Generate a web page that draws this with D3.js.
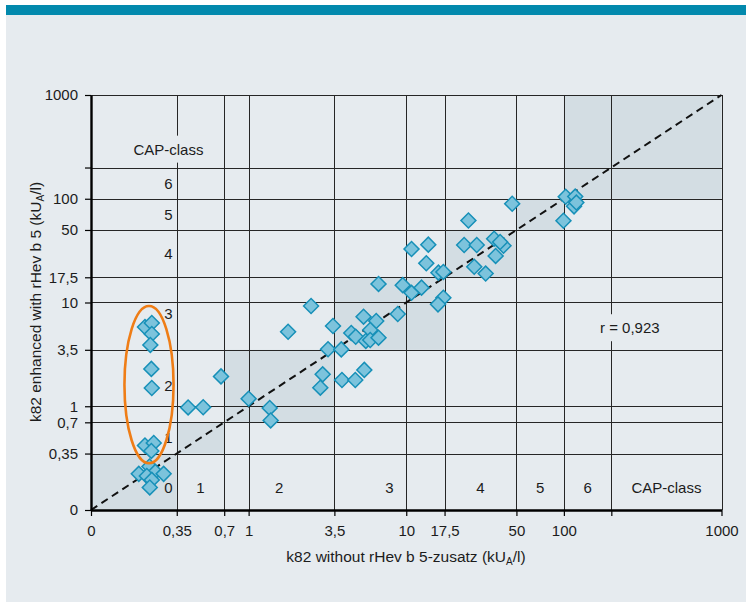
<!DOCTYPE html>
<html>
<head>
<meta charset="utf-8">
<script src="https://cdn.jsdelivr.net/npm/d3@7"></script>
<style>
  html, body { margin: 0; padding: 0; background: #ffffff; }
  svg { display: block; }
  text { font-family: "Liberation Sans", Arial, sans-serif; fill: #1c1c1c; }
</style>
</head>
<body>
<svg id="chart" width="746" height="602"></svg>
<script>
// k82 specific IgE (kU_A/l): without rHev b 5 supplement vs. enhanced with rHev b 5
const withoutRHev = [
  0.22, 0.243, 0.243, 0.238, 0.2415, 0.243, 0.22, 0.25, 0.2415,
  0.201, 0.235, 0.256, 0.289, 0.226, 0.243, 0.236,
  0.413, 0.515, 0.668, 1.0, 1.36, 1.38,
  1.78, 2.49, 3.43, 3.19, 3.87, 2.95, 2.85, 3.91, 4.75, 5.42,
  5.36, 6.45, 4.48, 4.78, 5.91, 5.54, 5.91, 6.67, 8.83,
  6.67, 9.5, 10.8, 12.5, 16.0, 17.2, 17.2, 15.9,
  10.8, 13.8, 13.4, 23.3, 28.0, 24.8, 27.0, 31.9, 36.1, 41.4, 36.9, 39.4,
  47.0, 102.7, 118, 116, 99.4, 120
];
const withRHev = [
  5.8, 6.35, 4.97, 3.9, 2.29, 1.5, 0.419, 0.443, 0.371,
  0.223, 0.263, 0.233, 0.223, 0.213, 0.195, 0.165,
  0.974, 0.978, 1.94, 1.18, 0.963, 0.73,
  5.23, 9.25, 5.94, 3.54, 3.53, 2.03, 1.51, 1.79, 1.79, 2.24,
  7.3, 6.63, 5.08, 4.68, 5.43, 4.26, 4.35, 4.58, 7.75,
  15.1, 14.7, 12.4, 13.9, 19.4, 19.7, 11.1, 9.6,
  32.8, 36.1, 23.9, 35.8, 35.8, 61.7, 22.1, 19.0, 41.2, 35.2, 28.1, 38.3,
  89.5, 104.5, 105, 84.5, 61.4, 91.9
];

// axis ticks (the "0" tick sits at the lower end of the log range)
const tickValues = [0.1, 0.35, 0.7, 1, 3.5, 10, 17.5, 50, 100, 200, 1000];
const tickLabels = ["0", "0,35", "0,7", "1", "3,5", "10", "17,5", "50", "100", "", "1000"];

// CAP class boundaries (kU_A/l) and class names
const classBounds = [0.1, 0.35, 0.7, 3.5, 17.5, 50, 100, 1000];
const classNames = ["0", "1", "2", "3", "4", "5", "6"];
const classLabelBounds = [0.1, 0.35, 0.7, 3.5, 17.5, 50, 100, 200];

// group of sera that only rise with the rHev b 5 supplement
const highlightX = [0.163, 0.334];
const highlightY = [0.282, 9.25];

const correlation = "r = 0,923";

const W = 746, H = 602;
const svg = d3.select("#chart");

const x = d3.scaleLog().domain([0.1, 1000]).range([91, 721.5]);
const y = d3.scaleLog().domain([0.1, 1000]).range([510, 95]);

const BG = "#e6ebef", SHADE = "#d3dde3", GRID = "#262626";

// page frame: white margin, teal band, pale panel
svg.append("rect").attr("x", 0).attr("y", 0).attr("width", W).attr("height", H).attr("fill", "#ffffff");
svg.append("rect").attr("x", 6).attr("y", 15).attr("width", W - 6).attr("height", H - 15).attr("fill", BG);
svg.append("rect").attr("x", 6).attr("y", 5).attr("width", W - 6).attr("height", 10).attr("fill", "#0289ad");

// shaded squares where both measurements fall into the same CAP class
const squares = d3.range(classBounds.length - 1).map(i => [classBounds[i], classBounds[i + 1]]);
svg.append("g").selectAll("rect").data(squares).join("rect")
  .attr("x", d => x(d[0]))
  .attr("y", d => y(d[1]))
  .attr("width", d => x(d[1]) - x(d[0]))
  .attr("height", d => y(d[0]) - y(d[1]))
  .attr("fill", SHADE);

// grid lines at every tick value
const gridVals = tickValues.filter(v => v > 0.1);
const grid = svg.append("g").attr("stroke", GRID).attr("stroke-width", 1).attr("shape-rendering", "crispEdges");
grid.selectAll("line.v").data(gridVals).join("line").attr("class", "v")
  .attr("x1", d => Math.round(x(d)) + 0.5).attr("x2", d => Math.round(x(d)) + 0.5)
  .attr("y1", y(1000)).attr("y2", y(0.1));
grid.selectAll("line.h").data(gridVals).join("line").attr("class", "h")
  .attr("y1", d => Math.round(y(d)) + 0.5).attr("y2", d => Math.round(y(d)) + 0.5)
  .attr("x1", x(0.1)).attr("x2", x(1000));

// line of identity
svg.append("line")
  .attr("x1", x(0.1)).attr("y1", y(0.1))
  .attr("x2", x(1000)).attr("y2", y(1000))
  .attr("stroke", "#111").attr("stroke-width", 2)
  .attr("stroke-dasharray", "7.5,5");

// axes
const fmt = v => tickLabels[tickValues.indexOf(v)];
const xAxis = svg.append("g").attr("transform", `translate(0,${y(0.1)})`)
  .call(d3.axisBottom(x).tickValues(tickValues).tickFormat(fmt).tickSize(6).tickSizeOuter(0).tickPadding(9));
const yAxis = svg.append("g").attr("transform", `translate(${x(0.1)},0)`)
  .call(d3.axisLeft(y).tickValues(tickValues).tickFormat(fmt).tickSize(6).tickSizeOuter(0).tickPadding(7));
[xAxis, yAxis].forEach(g => {
  g.select(".domain").attr("stroke", "#000").attr("stroke-width", 2.4);
  g.selectAll(".tick line").attr("stroke", "#000").attr("stroke-width", 1.2);
  g.selectAll(".tick text").attr("font-size", 15).attr("font-family", "Liberation Sans, Arial, sans-serif").attr("fill", "#1c1c1c");
});

// class labels along both axes
const labelColX = x(0.31);   // column for y-side class labels
const labelRowY = y(0.166);  // row for x-side class labels
const gm = (a, b) => Math.sqrt(a * b);
const labels = svg.append("g").attr("font-size", 15).attr("text-anchor", "middle");
labels.append("text").attr("x", labelColX).attr("y", labelRowY).attr("dy", "0.36em").text(classNames[0]);
for (let i = 1; i < classNames.length; i++) {
  const c = gm(classLabelBounds[i], classLabelBounds[i + 1]);
  labels.append("text").attr("x", x(c)).attr("y", labelRowY).attr("dy", "0.36em").text(classNames[i]);
  labels.append("text").attr("x", labelColX).attr("y", y(c)).attr("dy", "0.36em").text(classNames[i]);
}

// boxed labels that interrupt the grid
function boxedLabel(px, py, str) {
  const g = svg.append("g");
  const rect = g.append("rect").attr("fill", BG);
  const t = g.append("text").attr("x", px).attr("y", py).attr("dy", "0.36em")
    .attr("text-anchor", "middle").attr("font-size", 15).text(str);
  const b = t.node().getBBox();
  rect.attr("x", b.x - 3).attr("y", b.y - 5).attr("width", b.width + 6).attr("height", b.height + 10);
  return g;
}
labels.append("text").attr("x", x(gm(200, 1000))).attr("y", labelRowY).attr("dy", "0.36em").text("CAP-class");
boxedLabel(labelColX, y(300), "CAP-class");
boxedLabel(x(262), y(5.7), correlation);

// data points as diamonds
const pts = withoutRHev.map((v, i) => ({ a: v, b: withRHev[i] }));
const diamond = d3.symbol().type(d3.symbolSquare).size(112);
svg.append("g").selectAll("path").data(pts).join("path")
  .attr("d", diamond)
  .attr("transform", d => `translate(${x(d.a)},${y(d.b)}) rotate(45)`)
  .attr("fill", "#7cc3dc")
  .attr("stroke", "#1790b8")
  .attr("stroke-width", 1.5);

// highlight ellipse
const ex0 = x(highlightX[0]), ex1 = x(highlightX[1]);
const ey0 = y(highlightY[1]), ey1 = y(highlightY[0]);
svg.append("ellipse")
  .attr("cx", (ex0 + ex1) / 2).attr("cy", (ey0 + ey1) / 2)
  .attr("rx", (ex1 - ex0) / 2).attr("ry", (ey1 - ey0) / 2)
  .attr("fill", "none").attr("stroke", "#ef7d16").attr("stroke-width", 2.6);

// axis titles
const xt = svg.append("text").attr("x", 406).attr("y", 562).attr("text-anchor", "middle").attr("font-size", 15.5);
xt.append("tspan").text("k82 without rHev b 5-zusatz (kU");
xt.append("tspan").attr("font-size", 10).attr("dy", 3).text("A");
xt.append("tspan").attr("dy", -3).text("/l)");

const yt = svg.append("text").attr("transform", "translate(41,302) rotate(-90)").attr("text-anchor", "middle").attr("font-size", 15.5);
yt.append("tspan").text("k82 enhanced with rHev b 5 (kU");
yt.append("tspan").attr("font-size", 10).attr("dy", 3).text("A");
yt.append("tspan").attr("dy", -3).text("/l)");
</script>
</body>
</html>
